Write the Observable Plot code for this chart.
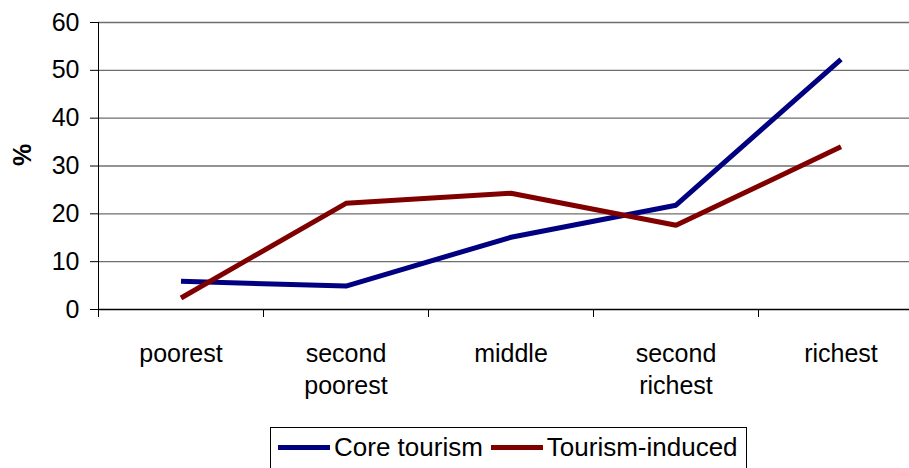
<!DOCTYPE html>
<html>
<head>
<meta charset="utf-8">
<script src="https://cdn.jsdelivr.net/npm/d3@7"></script>
<script src="https://cdn.jsdelivr.net/npm/@observablehq/plot@0.6"></script>
<style>
  html, body { margin: 0; padding: 0; background: #fff; }
  #wrap { width: 909px; height: 468px; overflow: hidden; font-family: "Liberation Sans", Arial, sans-serif; }
  #wrap svg { display: block; }
  .legend { margin-left: 270px; margin-top: 2px; width: 477px; height: 50px; border: 1px solid #000; box-sizing: border-box;
            display: flex; align-items: flex-start; padding-top: 4px; padding-left: 7px; font-size: 26px; color: #000; }
  .legend .item { display: flex; align-items: center; }
  .legend .sw { width: 52px; height: 5px; margin-right: 4px; }
  .legend .item + .item { margin-left: 8px; }
</style>
</head>
<body>
<div id="wrap"></div>
<script>
const categories = ["poorest", "second\npoorest", "middle", "second\nrichest", "richest"];
const coreTourism = [5.9, 4.9, 15.1, 21.8, 52.3];
const tourismInduced = [2.4, 22.2, 24.3, 17.6, 34.0];
const yTicks = [0, 10, 20, 30, 40, 50, 60];
const seriesNames = ["Core tourism", "Tourism-induced"];
const seriesColors = ["#000080", "#800000"];

const rows = [];
categories.forEach((c, i) => {
  rows.push({series: seriesNames[0], idx: i + 0.5, value: coreTourism[i]});
  rows.push({series: seriesNames[1], idx: i + 0.5, value: tourismInduced[i]});
});
const boundaries = d3.range(categories.length + 1);
const centers = categories.map((c, i) => i + 0.5);

const chart = Plot.plot({
  width: 909,
  height: 425,
  marginLeft: 98,
  marginRight: -14,
  marginTop: 22,
  marginBottom: 116,
  style: {fontFamily: "Liberation Sans, Arial, sans-serif", fontSize: "25px", color: "#000", background: "#fff"},
  x: {type: "linear", domain: [0, categories.length], axis: null},
  y: {domain: [0, 60], axis: null},
  color: {domain: seriesNames, range: seriesColors},
  marks: [
    Plot.ruleY(yTicks.filter(t => t > 0), {stroke: "#6e6e6e", strokeWidth: 1.4, strokeOpacity: 1}),
    Plot.axisY({ticks: yTicks, tickSize: 8, tickPadding: 11, label: null, stroke: "#000", fontSize: 25}),
    Plot.axisX({ticks: boundaries, tickSize: 8, tickFormat: () => "", label: null, stroke: "#000"}),
    Plot.axisX({ticks: centers, tickSize: 0, tickPadding: 30, tickFormat: (d) => categories[Math.round(d - 0.5)], label: null, fontSize: 25, lineHeight: 1.28}),
    Plot.ruleX([0], {stroke: "#000", strokeWidth: 1}),
    Plot.ruleY([0], {stroke: "#000", strokeWidth: 1.4}),
    Plot.line(rows, {x: "idx", y: "value", z: "series", stroke: "series", strokeWidth: 5, strokeLinejoin: "miter", strokeLinecap: "butt"}),
    Plot.text(["%"], {frameAnchor: "left", dx: -76, rotate: -90, fontWeight: "bold", fontSize: 25, fill: "#000"})
  ]
});

const wrap = document.getElementById("wrap");
wrap.appendChild(chart);
const legend = document.createElement("div");
legend.className = "legend";
seriesNames.forEach((n, i) => {
  const item = document.createElement("div");
  item.className = "item";
  const sw = document.createElement("span");
  sw.className = "sw";
  sw.style.background = seriesColors[i];
  const t = document.createElement("span");
  t.textContent = n;
  item.appendChild(sw);
  item.appendChild(t);
  legend.appendChild(item);
});
wrap.appendChild(legend);
</script>
</body>
</html>
